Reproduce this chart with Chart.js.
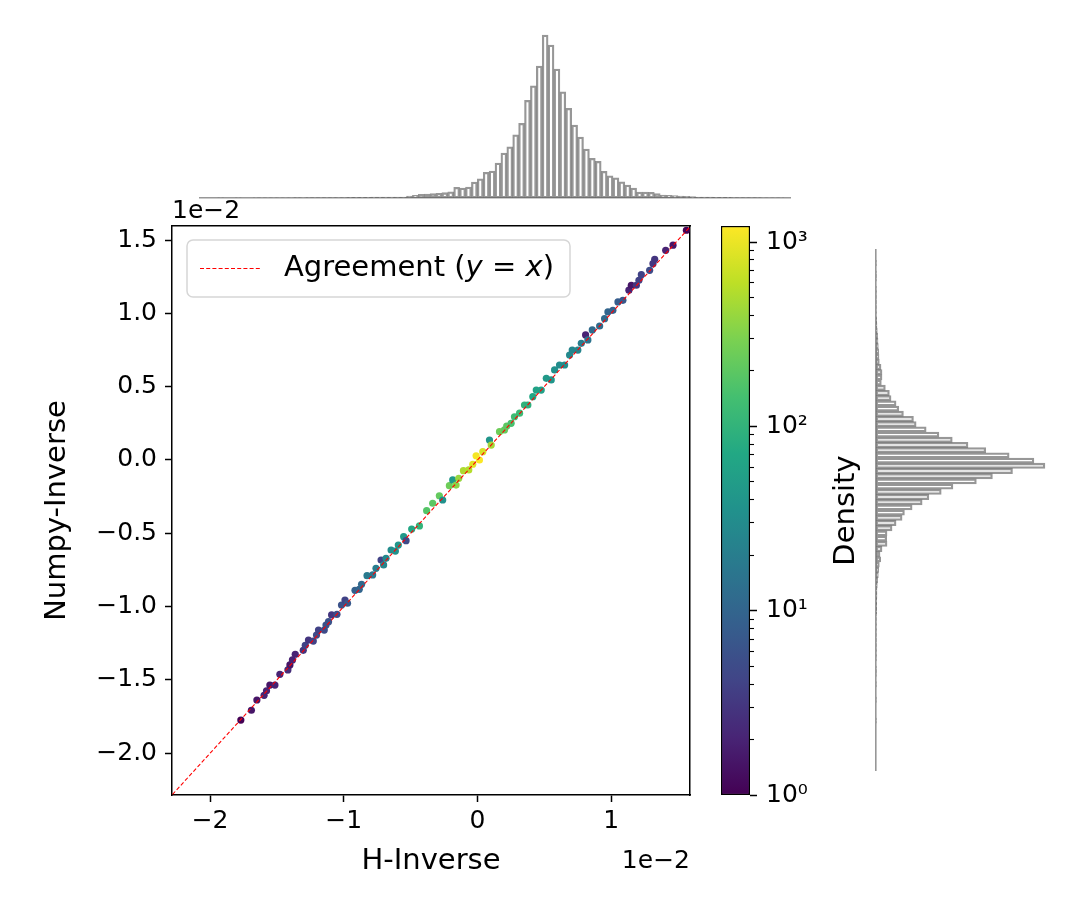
<!DOCTYPE html>
<html>
<head>
<meta charset="utf-8">
<script src="https://cdn.jsdelivr.net/npm/chart.js@4.4.1/dist/chart.umd.min.js"></script>
<style>
  html, body { margin: 0; padding: 0; background: #fff; }
  #fig { position: relative; width: 1080px; height: 900px; overflow: hidden; }
  #fig canvas { position: absolute; }
</style>
</head>
<body>
<div id="fig">
  <canvas id="topHist" width="620" height="210" style="left:190px;top:0px"></canvas>
  <canvas id="main" width="710" height="710" style="left:0px;top:190px"></canvas>
  <canvas id="cbar" width="180" height="620" style="left:700px;top:200px"></canvas>
  <canvas id="rightHist" width="214" height="540" style="left:866px;top:240px"></canvas>
</div>
<script>
// scatter points: H-Inverse vs Numpy-Inverse, coloured by point density
const hInverse = [
  -0.01770, -0.01691, -0.01650, -0.01596, -0.01578, -0.01553, -0.01515, -0.01478, -0.01418, -0.01403,
  -0.01384, -0.01363, -0.01303, -0.01288, -0.01264, -0.01228, -0.01204, -0.01189, -0.01146, -0.01133,
  -0.01114, -0.01091, -0.01051, -0.01017, -0.00991, -0.00972, -0.00916, -0.00884, -0.00867, -0.00826,
  -0.00784, -0.00759, -0.00721, -0.00702, -0.00684, -0.00646, -0.00614, -0.00592, -0.00552, -0.00534,
  -0.00492, -0.00434, -0.00380, -0.00335, -0.00285, -0.00260, -0.00210, -0.00185, -0.00160, -0.00140,
  -0.00105, -0.00065, -0.00035, -0.00010, 0.00015, 0.00040, 0.00090, 0.00103, 0.00165, 0.00202,
  0.00219, 0.00252, 0.00277, 0.00315, 0.00352, 0.00377, 0.00414, 0.00440, 0.00477, 0.00515,
  0.00552, 0.00577, 0.00614, 0.00652, 0.00689, 0.00709, 0.00751, 0.00777, 0.00809, 0.00826,
  0.00859, 0.00914, 0.00951, 0.00976, 0.01013, 0.01051, 0.01088, 0.01133, 0.01151, 0.01189,
  0.01208, 0.01226, 0.01288, 0.01313, 0.01326, 0.01408, 0.01463, 0.01563
];
const npInverse = [
  -0.01774, -0.01707, -0.01637, -0.01605, -0.01574, -0.01535, -0.01535, -0.01462, -0.01432, -0.01398,
  -0.01364, -0.01325, -0.01298, -0.01264, -0.01228, -0.01235, -0.01194, -0.01160, -0.01160, -0.01126,
  -0.01103, -0.01057, -0.01053, -0.00989, -0.00955, -0.00977, -0.00889, -0.00882, -0.00848, -0.00789,
  -0.00784, -0.00739, -0.00682, -0.00716, -0.00671, -0.00614, -0.00621, -0.00580, -0.00523, -0.00550,
  -0.00471, -0.00450, -0.00346, -0.00295, -0.00244, -0.00273, -0.00175, -0.00136, -0.00171, -0.00125,
  -0.00073, -0.00068, -0.00029, 0.00029, 0.00000, 0.00057, 0.00136, 0.00102, 0.00193, 0.00205,
  0.00232, 0.00250, 0.00295, 0.00319, 0.00375, 0.00375, 0.00432, 0.00477, 0.00477, 0.00557,
  0.00546, 0.00614, 0.00648, 0.00648, 0.00716, 0.00750, 0.00750, 0.00796, 0.00853, 0.00819,
  0.00887, 0.00914, 0.00964, 0.01010, 0.01021, 0.01078, 0.01089, 0.01158, 0.01192, 0.01192,
  0.01226, 0.01264, 0.01294, 0.01339, 0.01369, 0.01430, 0.01465, 0.01567
];
const density = [
  1, 1.5, 1.5, 2, 2, 1.5, 2, 2, 2.5, 1.5,
  2, 2, 3, 4, 3, 4, 5, 4, 5, 6,
  6, 3, 5, 6, 4, 7, 9, 10, 11, 18,
  16, 20, 4, 25, 28, 30, 35, 40, 45, 5,
  70, 100, 180, 200, 220, 35, 250, 45, 350, 400,
  500, 550, 900, 1100, 1200, 800, 40, 450, 250, 220,
  200, 150, 130, 120, 100, 90, 70, 60, 55, 45,
  40, 35, 30, 30, 28, 25, 25, 20, 2, 15,
  12, 12, 12, 10, 9, 8, 7, 2, 1.5, 3,
  4, 4, 5, 3, 3, 2, 1.5, 1
];

// axis ticks
const xTicks = [-0.02, -0.01, 0, 0.01];
const xTickLabels = ['\u22122', '\u22121', '0', '1'];
const yTicks = [-0.02, -0.015, -0.01, -0.005, 0, 0.005, 0.01, 0.015];
const yTickLabels = ['\u22122.0', '\u22121.5', '\u22121.0', '\u22120.5', '0.0', '0.5', '1.0', '1.5'];
const agreeLine = [-0.03, 0.02];

// colour bar
const cbarTicks = [1, 2, 3, 4, 5, 6, 7, 8, 9, 10, 20, 30, 40, 50, 60, 70, 80, 90,
  100, 200, 300, 400, 500, 600, 700, 800, 900, 1000];
const cbarMajor = [1, 10, 100, 1000];
const cbarMajorLabels = ['10\u2070', '10\u00b9', '10\u00b2', '10\u00b3'];

// marginal histograms (counts per bin)
const topCounts = [
  0, 0, 0, 1, 0, 0, 1, 0, 0, 1,
  1, 1, 2, 1, 2, 2, 3, 2, 3, 3,
  3, 4, 4, 5, 5, 6, 6, 7, 7, 8,
  8, 9, 9, 10, 10, 20, 27, 37, 40, 43,
  47, 53, 63, 107, 100, 110, 160, 193, 257, 270,
  350, 450, 513, 633, 747, 977, 1123, 1320, 1630, 1530,
  1290, 1063, 897, 730, 610, 490, 397, 367, 267, 223,
  203, 163, 130, 100, 60, 60, 57, 43, 30, 27,
  23, 20, 17, 13, 10, 9, 8, 7, 6, 6,
  5, 4, 4, 3, 3, 2, 2, 1, 1, 0
];
const rightCounts = [
  0, 0, 1, 0, 1, 1, 0, 1, 1, 1,
  1, 1, 1, 2, 3, 4, 5, 6, 7, 8,
  9, 10, 15, 18, 18, 16, 28, 40, 45, 60,
  68, 82, 112, 120, 150, 188, 228, 275, 328, 398,
  472, 505, 408, 348, 300, 230, 195, 158, 138, 108,
  85, 78, 60, 48, 33, 32, 33, 18, 12, 14,
  10, 8, 7, 5, 4, 3, 3, 2, 2, 2,
  1, 1, 1, 1, 1, 1, 1, 1, 1, 0,
  1, 1, 0, 1, 0, 0, 1, 0, 0, 0,
  1, 0, 0, 0, 0, 0, 0, 0, 0, 0
];

const FONT = "'DejaVu Sans', sans-serif";
Chart.defaults.font.family = FONT;
Chart.defaults.color = '#000';
Chart.defaults.animation = false;
Chart.defaults.events = [];
Chart.defaults.plugins.legend.display = false;
Chart.defaults.plugins.tooltip.enabled = false;

const AX_MIN = -0.02285, X_MAX = 0.0159, Y_MAX = 0.01596;
const CBAR_MIN = 1, CBAR_MAX = 1222;
const HIST_EDGE = 'rgba(95,95,95,0.65)';

const VIRIDIS = ['#440154', '#482475', '#414487', '#355f8d', '#2a788e', '#21918c',
  '#22a884', '#44bf70', '#7ad151', '#bddf26', '#fde725'];
function hexToRgb(h) { return [1, 3, 5].map(i => parseInt(h.slice(i, i + 2), 16)); }
function viridis(t) {
  t = Math.min(1, Math.max(0, t));
  const s = t * (VIRIDIS.length - 1);
  const i = Math.min(Math.floor(s), VIRIDIS.length - 2);
  const f = s - i;
  const a = hexToRgb(VIRIDIS[i]), b = hexToRgb(VIRIDIS[i + 1]);
  return 'rgb(' + a.map((v, k) => Math.round(v + (b[k] - v) * f)).join(',') + ')';
}
function densityColor(d) { return viridis(Math.log10(d) / Math.log10(CBAR_MAX)); }

const blackAxisGrid = { display: true, drawOnChartArea: false, drawTicks: true, tickLength: 7, tickWidth: 1.5, tickColor: '#000' };
const frameAxis = (position, horizontal) => ({
  type: 'linear', position, min: 0, max: 1,
  ticks: { display: false },
  grid: { display: false, drawTicks: false },
  border: { display: true, color: '#000', width: 1.5 },
  afterFit: s => { if (horizontal) s.height = 0; else s.width = 0; }
});

// legend, offset texts
const mainExtras = {
  id: 'mainExtras',
  afterDraw(chart) {
    const { ctx, chartArea: ca } = chart;
    ctx.save();
    ctx.font = '25px ' + FONT;
    ctx.fillStyle = '#000';
    ctx.textBaseline = 'alphabetic';
    ctx.textAlign = 'left';
    ctx.fillText('1e\u22122', ca.left, ca.top - 8);
    ctx.textAlign = 'right';
    ctx.fillText('1e\u22122', ca.right, ca.bottom + 73);

    // legend box
    const bx = ca.left + 15, by = ca.top + 14, bw = 383, bh = 57, r = 6;
    ctx.beginPath();
    ctx.moveTo(bx + r, by);
    ctx.arcTo(bx + bw, by, bx + bw, by + bh, r);
    ctx.arcTo(bx + bw, by + bh, bx, by + bh, r);
    ctx.arcTo(bx, by + bh, bx, by, r);
    ctx.arcTo(bx, by, bx + bw, by, r);
    ctx.closePath();
    ctx.fillStyle = 'rgba(255,255,255,0.8)';
    ctx.fill();
    ctx.strokeStyle = '#d6d6d6';
    ctx.lineWidth = 1.5;
    ctx.stroke();

    const cy = by + bh / 2;
    ctx.strokeStyle = 'red';
    ctx.lineWidth = 1.1;
    ctx.setLineDash([4, 2.2]);
    ctx.beginPath();
    ctx.moveTo(bx + 13, cy);
    ctx.lineTo(bx + 73, cy);
    ctx.stroke();
    ctx.setLineDash([]);

    ctx.fillStyle = '#000';
    ctx.textAlign = 'left';
    ctx.textBaseline = 'middle';
    let tx = bx + 97;
    const parts = [['Agreement (', ''], ['y', 'italic '], [' = ', ''], ['x', 'italic '], [')', '']];
    parts.forEach(([txt, style]) => {
      ctx.font = style + '29px ' + FONT;
      ctx.fillText(txt, tx, cy);
      tx += ctx.measureText(txt).width;
    });
    ctx.restore();
  }
};

new Chart(document.getElementById('main'), {
  type: 'scatter',
  data: {
    datasets: [
      {
        type: 'line',
        label: 'Agreement (y = x)',
        order: 0,
        data: agreeLine.map(v => ({ x: v, y: v })),
        borderColor: 'red',
        borderWidth: 1.1,
        borderDash: [4, 2.2],
        pointRadius: 0,
        fill: false
      },
      {
        label: 'points',
        order: 1,
        data: hInverse.map((x, i) => ({ x, y: npInverse[i] })),
        pointRadius: 3.6,
        pointBorderWidth: 0,
        pointBackgroundColor: density.map(densityColor)
      }
    ]
  },
  options: {
    responsive: false,
    layout: { padding: { left: 36, right: 20, top: 36, bottom: 17 } },
    scales: {
      x: {
        type: 'linear', min: AX_MIN, max: X_MAX,
        afterBuildTicks: s => { s.ticks = xTicks.map(v => ({ value: v })); },
        ticks: { callback: (v, i) => xTickLabels[i], font: { size: 25 }, padding: 4, maxRotation: 0, autoSkip: false },
        grid: blackAxisGrid,
        border: { display: true, color: '#000', width: 1.5 },
        title: { display: true, text: 'H-Inverse', font: { size: 29 }, padding: 4 },
        afterFit: s => { s.height = 88; }
      },
      y: {
        type: 'linear', min: AX_MIN, max: Y_MAX,
        afterBuildTicks: s => { s.ticks = yTicks.map(v => ({ value: v })); },
        ticks: { callback: (v, i) => yTickLabels[i], font: { size: 25 }, padding: 8, autoSkip: false },
        grid: blackAxisGrid,
        border: { display: true, color: '#000', width: 1.5 },
        title: { display: true, text: 'Numpy-Inverse', font: { size: 29 }, padding: 4 },
        afterFit: s => { s.width = 136; }
      },
      xTop: frameAxis('top', true),
      yRight: frameAxis('right', false)
    }
  },
  plugins: [mainExtras]
});

// colour bar
const cbarTitle = {
  id: 'cbarTitle',
  afterDraw(chart) {
    const { ctx, chartArea: ca } = chart;
    ctx.save();
    ctx.translate(146, (ca.top + ca.bottom) / 2);
    ctx.rotate(-Math.PI / 2);
    ctx.font = '29px ' + FONT;
    ctx.fillStyle = '#000';
    ctx.textAlign = 'center';
    ctx.textBaseline = 'middle';
    ctx.fillText('Density', 0, 0);
    ctx.restore();
  }
};

const isMajor = c => cbarMajor.includes(c.tick && c.tick.value);

new Chart(document.getElementById('cbar'), {
  type: 'bar',
  data: {
    labels: ['Density'],
    datasets: [{
      data: [[CBAR_MIN, CBAR_MAX]],
      backgroundColor: c => {
        const { chartArea, ctx } = c.chart;
        if (!chartArea) return null;
        const g = ctx.createLinearGradient(0, chartArea.bottom, 0, chartArea.top);
        VIRIDIS.forEach((col, i) => g.addColorStop(i / (VIRIDIS.length - 1), col));
        return g;
      },
      borderColor: '#000',
      borderWidth: 1.5,
      borderSkipped: false,
      barPercentage: 1,
      categoryPercentage: 1
    }]
  },
  options: {
    responsive: false,
    layout: { padding: { left: 21, right: 50, top: 26, bottom: 25 } },
    scales: {
      x: { display: false },
      y: {
        type: 'logarithmic', position: 'right', min: CBAR_MIN, max: CBAR_MAX,
        afterBuildTicks: s => { s.ticks = cbarTicks.map(v => ({ value: v })); },
        ticks: {
          autoSkip: false, font: { size: 25 }, padding: 9,
          callback: v => { const k = cbarMajor.indexOf(v); return k >= 0 ? cbarMajorLabels[k] : ''; }
        },
        grid: {
          display: true, drawOnChartArea: false, drawTicks: true, tickLength: 7, tickColor: '#000',
          tickWidth: c => (isMajor(c) ? 1.5 : 1.1),
          tickBorderDash: c => (isMajor(c) ? [] : [4, 20])
        },
        border: { display: false },
        afterFit: s => { s.width = 80; }
      }
    }
  },
  plugins: [cbarTitle]
});

// top marginal histogram
new Chart(document.getElementById('topHist'), {
  type: 'bar',
  data: {
    labels: topCounts.map((_, i) => i),
    datasets: [{
      data: topCounts,
      backgroundColor: 'rgba(0,0,0,0)',
      borderColor: HIST_EDGE,
      borderWidth: 1.6,
      borderSkipped: false,
      barPercentage: 1,
      categoryPercentage: 1
    }]
  },
  options: {
    responsive: false,
    layout: { padding: { left: 10, right: 20, top: 27, bottom: 12 } },
    scales: {
      x: {
        display: true,
        ticks: { display: false },
        grid: { display: false, drawTicks: false },
        border: { display: true, color: HIST_EDGE, width: 1.6 },
        afterFit: s => { s.height = 0; }
      },
      y: { display: false, min: 0, max: 1711.5 }
    }
  }
});

// right marginal histogram
new Chart(document.getElementById('rightHist'), {
  type: 'bar',
  data: {
    labels: rightCounts.map((_, i) => i),
    datasets: [{
      data: rightCounts,
      backgroundColor: 'rgba(0,0,0,0)',
      borderColor: HIST_EDGE,
      borderWidth: 1.6,
      borderSkipped: false,
      barPercentage: 1,
      categoryPercentage: 1
    }]
  },
  options: {
    responsive: false,
    indexAxis: 'y',
    layout: { padding: { left: 10, right: 26.6, top: 10, bottom: 10 } },
    scales: {
      y: {
        display: true,
        ticks: { display: false },
        grid: { display: false, drawTicks: false },
        border: { display: true, color: HIST_EDGE, width: 1.6 },
        afterFit: s => { s.width = 0; }
      },
      x: { display: false, min: 0, max: 530.25 }
    }
  }
});
</script>
</body>
</html>
